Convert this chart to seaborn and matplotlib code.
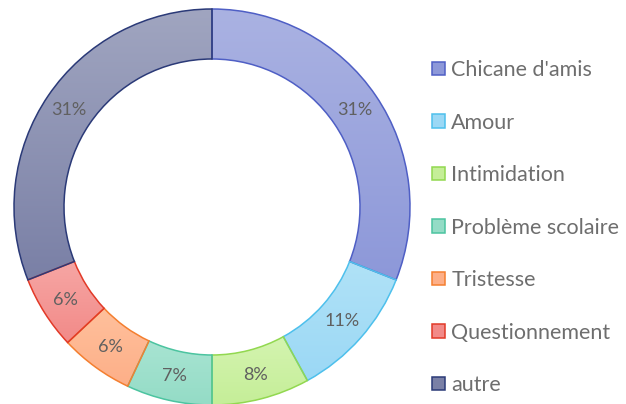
import numpy as np
import matplotlib
matplotlib.use("Agg")
import matplotlib.pyplot as plt
import seaborn as sns
from matplotlib.patches import Wedge, Patch
from matplotlib.colors import to_rgb

categories = ["Chicane d'amis", "Amour", "Intimidation", "Problème scolaire",
              "Tristesse", "Questionnement", "autre"]
values = [31, 11, 8, 7, 6, 6, 31]
labels = ["31%", "11%", "8%", "7%", "6%", "6%", "31%"]

top_colors = ["#AAB2E2", "#B0E2F7", "#D4F4B0", "#A8E4D2", "#FFC09C", "#F6A6A4", "#A0A5C0"]
bottom_colors = ["#8D98D9", "#9BD8F5", "#C5EE98", "#94DCC6", "#FDAF88", "#F28A88", "#7A80A6"]
edge_colors = ["#4F5FC5", "#4EC0EC", "#92D850", "#4CC4A0", "#F47F30", "#E23A28", "#2B3A78"]

sns.set_theme(style="white")
plt.rcParams['font.family'] = ['Lato', 'DejaVu Sans']

W, H = 626, 404
fig = plt.figure(figsize=(W / 100, H / 100), dpi=100)
cx, cy, R = 212, 207, 198
half = 202
ax = fig.add_axes([(cx - half) / W, (H - cy - half) / H, 2 * half / W, 2 * half / H])
ax.set_axis_off()

ring_w = 50 / 198
wedges, texts = ax.pie(values, startangle=90, counterclock=False, radius=1.0,
                       colors=bottom_colors,
                       wedgeprops=dict(width=ring_w, linewidth=0))

# gradient fills per slice
for w, tc, bc, ec in zip(wedges, top_colors, bottom_colors, edge_colors):
    ext = w.get_path().get_extents()
    t = np.array(to_rgb(tc)); b = np.array(to_rgb(bc))
    n = 64
    frac = np.linspace(0, 1, n)[:, None]
    grad = (t * (1 - frac) + b * frac)[:, None, :]
    im = ax.imshow(grad, extent=[ext.x0, ext.x1, ext.y0, ext.y1], origin="upper",
                   aspect="auto", zorder=2, interpolation="bilinear")
    im.set_clip_path(w)
    edge = Wedge(w.center, w.r, w.theta1, w.theta2, width=w.width,
                 facecolor="none", edgecolor=ec, linewidth=1.1, zorder=3)
    ax.add_patch(edge)

# percent labels at mid ring
mid_r = 1 - ring_w / 2
for w, lab in zip(wedges, labels):
    ang = np.deg2rad((w.theta1 + w.theta2) / 2)
    ax.text(mid_r * np.cos(ang), mid_r * np.sin(ang), lab, ha="center", va="center",
            fontsize=13, color="#606060", zorder=4)

lim = half / R
ax.set_xlim(-lim, lim)
ax.set_ylim(-lim, lim)
ax.set_aspect("equal")

handles = [Patch(facecolor=bc, edgecolor=ec, linewidth=1.1) for bc, ec in zip(bottom_colors, edge_colors)]
leg = fig.legend(handles, categories, loc="upper left", bbox_to_anchor=(432 / W, 1 - 60 / H),
                 frameon=False, fontsize=15.5, handlelength=0.6, handleheight=0.6,
                 handletextpad=0.3, labelspacing=1.51, borderaxespad=0, borderpad=0)
for txt in leg.get_texts():
    txt.set_color("#6E6E6E")

fig.savefig("out.png", dpi=100)
